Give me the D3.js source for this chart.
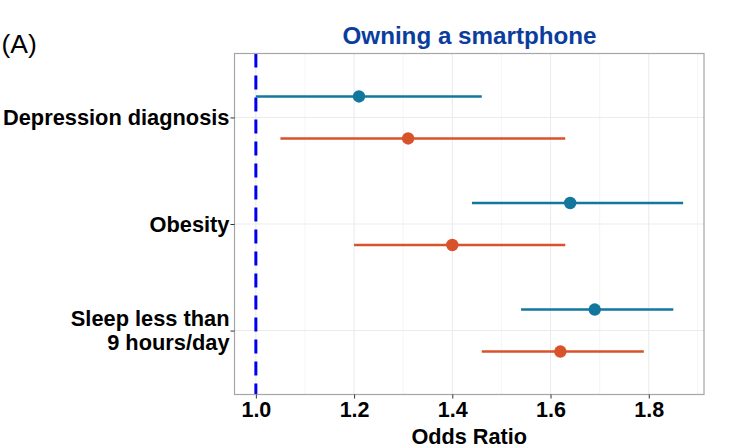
<!DOCTYPE html>
<html><head><meta charset="utf-8">
<script src="https://cdn.jsdelivr.net/npm/d3@7"></script>
<style>body{margin:0;background:#fff}svg{display:block}</style>
</head><body><svg id="c" width="753" height="448"></svg>
<script>
const categories = ["Depression diagnosis", "Obesity", "Sleep less than\n9 hours/day"];
const groups = ["g1", "g2"];
const groupColors = ["#13779d", "#d9532a"];
const est = [[1.21, 1.31], [1.64, 1.40], [1.69, 1.62]];
const lower = [[1.00, 1.05], [1.44, 1.20], [1.54, 1.46]];
const upper = [[1.46, 1.63], [1.87, 1.63], [1.85, 1.79]];
const xTicks = [1.0, 1.2, 1.4, 1.6, 1.8];
const xMinor = [1.1, 1.3, 1.5, 1.7, 1.9];
const refValue = 1.0;

const FF = "Liberation Sans, Arial, Helvetica, sans-serif";
const svg = d3.select("#c");
const L = 234.5, R = 704, T = 53.5, B = 394.5;
const x = d3.scaleLinear().domain([0.9565, 1.9125]).range([L, R]);
const y = d3.scalePoint().domain(categories).range([T, B]).padding(0.6);
const dodge = 21;

// panel grid
const g = svg.append("g");
g.selectAll(".minor").data(xMinor).enter().append("line")
  .attr("x1", d => x(d)).attr("x2", d => x(d)).attr("y1", T).attr("y2", B)
  .attr("stroke", "#f2f2f2").attr("stroke-width", 0.8);
g.selectAll(".major").data(xTicks).enter().append("line")
  .attr("x1", d => x(d)).attr("x2", d => x(d)).attr("y1", T).attr("y2", B)
  .attr("stroke", "#ebebeb").attr("stroke-width", 1.1);
g.selectAll(".hmaj").data(categories).enter().append("line")
  .attr("x1", L).attr("x2", R).attr("y1", d => y(d)).attr("y2", d => y(d))
  .attr("stroke", "#ebebeb").attr("stroke-width", 1.1);

// reference line
svg.append("line").attr("x1", x(refValue)).attr("x2", x(refValue)).attr("y1", T).attr("y2", B)
  .attr("stroke", "#0000ee").attr("stroke-width", 3).attr("stroke-dasharray", "14,8");

// error bars and points
const rows = [];
categories.forEach((c, i) => groups.forEach((gr, j) => rows.push({c, j, e: est[i][j], lo: lower[i][j], hi: upper[i][j]})));
const yy = d => y(d.c) + (d.j === 0 ? -dodge : dodge);
svg.selectAll(".bar").data(rows).enter().append("line")
  .attr("x1", d => x(d.lo)).attr("x2", d => x(d.hi)).attr("y1", yy).attr("y2", yy)
  .attr("stroke", d => groupColors[d.j]).attr("stroke-width", 2.4);
svg.selectAll(".pt").data(rows).enter().append("circle")
  .attr("cx", d => x(d.e)).attr("cy", yy).attr("r", 6.2)
  .attr("fill", d => groupColors[d.j]);

// border
svg.append("rect").attr("x", L).attr("y", T).attr("width", R - L).attr("height", B - T)
  .attr("fill", "none").attr("stroke", "#a6a6a6").attr("stroke-width", 1.2);

// x axis
const xa = svg.append("g").attr("transform", `translate(0,${B})`)
  .call(d3.axisBottom(x).tickValues(xTicks).tickFormat(d3.format(".1f")).tickSize(4).tickPadding(3));
xa.select(".domain").remove();
xa.selectAll(".tick line").attr("stroke", "#333");
xa.selectAll("text").attr("font-family", FF)
  .attr("font-size", 21.5).attr("font-weight", "bold").attr("fill", "#000");

// y axis
const ya = svg.append("g").attr("transform", `translate(${L},0)`)
  .call(d3.axisLeft(y).tickSize(4).tickPadding(3).tickFormat(""));
ya.select(".domain").remove();
ya.selectAll(".tick line").attr("stroke", "#333");
const lab = svg.append("g").attr("font-family", FF)
  .attr("font-size", 21.8).attr("font-weight", "bold").attr("text-anchor", "end");
categories.forEach(c => {
  const lines = c.split("\n");
  const lh = 23.5;
  lines.forEach((t, k) => {
    lab.append("text").attr("x", L - 5)
      .attr("y", y(c) + (k - (lines.length - 1) / 2) * lh)
      .attr("dy", "0.35em").text(t);
  });
});

// titles
svg.append("text").attr("x", (L + R) / 2).attr("y", 444).attr("text-anchor", "middle")
  .attr("font-family", FF).attr("font-size", 21.7).attr("font-weight", "bold")
  .text("Odds Ratio");
svg.append("text").attr("x", 469.5).attr("y", 44).attr("text-anchor", "middle")
  .attr("font-family", FF).attr("font-size", 24.2).attr("font-weight", "bold")
  .attr("fill", "#0b3d9c").text("Owning a smartphone");
svg.append("text").attr("x", 1.5).attr("y", 53)
  .attr("font-family", FF).attr("font-size", 26.5)
  .text("(A)");
</script></body></html>
